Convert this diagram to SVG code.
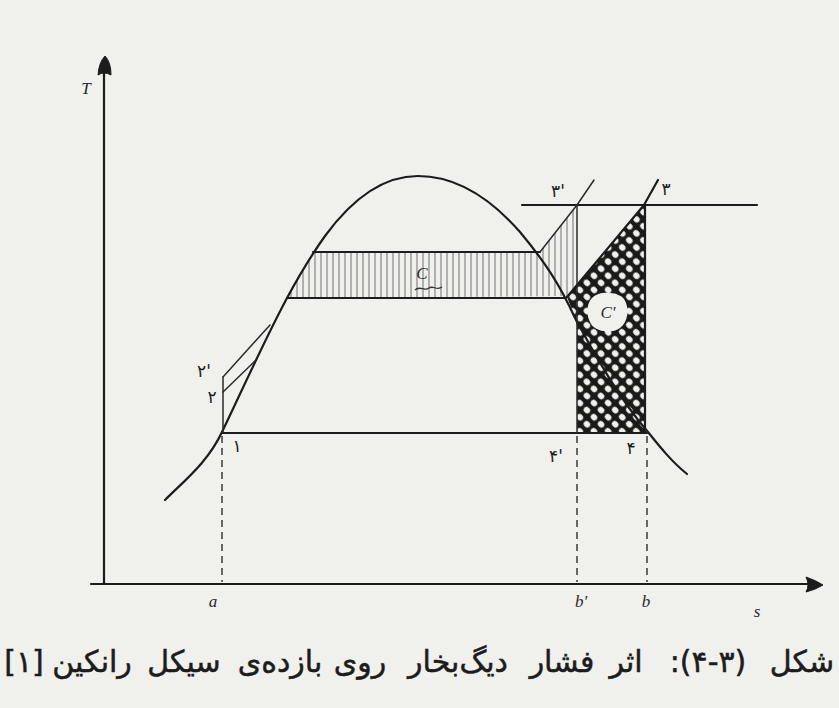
<svg xmlns="http://www.w3.org/2000/svg" width="839" height="708" viewBox="0 0 839 708">
<defs>
<style>
.ln{fill:none;stroke:#1c1c1c;stroke-width:2.2;stroke-linecap:round;stroke-linejoin:round}
.thin{fill:none;stroke:#2a2a2a;stroke-width:1.5;stroke-linecap:round}
.dash{fill:none;stroke:#3a3a3a;stroke-width:1.5;stroke-dasharray:7 5}
.lbl{font-family:"Liberation Serif",serif;font-style:italic;font-size:17px;fill:#2a2a2a;text-anchor:middle}
.fa{font-family:"DejaVu Sans",sans-serif;fill:#1c1c1c;text-anchor:middle}
.pt{font-size:17px}
.cap{font-size:30px;stroke:#1c1c1c;stroke-width:0.5}
.arrow{fill:#1c1c1c;stroke:#1c1c1c;stroke-width:1;stroke-linejoin:round}
</style>
<pattern id="vh" width="6" height="10" patternUnits="userSpaceOnUse">
<line x1="3" y1="0" x2="3" y2="10" stroke="#858585" stroke-width="1.2"/>
</pattern>
<pattern id="xh" width="10" height="10" patternUnits="userSpaceOnUse" patternTransform="rotate(45)">
<rect width="10" height="10" fill="#1a1a1a"/>
<ellipse cx="5" cy="5" rx="3.5" ry="3" fill="#f0f0ed"/>
</pattern>
</defs>
<rect width="839" height="708" fill="#f0f0ed"/>

<g id="hatch-C">
<path d="M313,252 L540,252 L577,205 L577,285 L568,296 L287,298 Z" fill="url(#vh)"/>
</g>
<g id="hatch-Cprime">
<path d="M567,297 L644,205 L645,205 L645,433 L577,433 L577,326 L573,312 Z" fill="url(#xh)"/>
<path d="M592,298 C600,290 618,292 624,299 C630,308 628,322 620,328 C612,334 596,332 591,324 C586,316 586,304 592,298 Z" fill="#f0f0ed"/>
</g>

<g id="axes">
<line class="ln" x1="104" y1="584" x2="104" y2="70"/>
<path class="arrow" d="M98,75 Q99,62 105,56 Q111,62 111,75 Q104,71 98,75 Z"/>
<line class="ln" x1="91" y1="584" x2="810" y2="584"/>
<path class="arrow" d="M806,577 Q815,580 823,585 Q815,590 806,592 Q810,585 806,577 Z"/>
<text class="lbl" x="86" y="94" font-size="15">T</text>
<text class="lbl" x="213" y="607">a</text>
<text class="lbl" x="581" y="607">b'</text>
<text class="lbl" x="646" y="607">b</text>
<text class="lbl" x="757" y="617">s</text>
</g>

<g id="dashes">
<line class="dash" x1="222" y1="436" x2="222" y2="582"/>
<line class="dash" x1="577" y1="436" x2="577" y2="582"/>
<line class="dash" x1="647" y1="436" x2="647" y2="582"/>
</g>

<g id="dome">
<path class="ln" d="M165,500 C185,480 208,462 222,432 C240,395 262,345 287,298 C300,274 310,257 325,236 C355,195 385,176 418,176 C458,176 492,200 520,232 C545,262 560,285 575,318 C595,355 620,400 648,432 C660,447 672,462 687,474"/>
</g>

<g id="cycles">
<line class="ln" x1="222" y1="433" x2="647" y2="433"/>
<line class="ln" x1="287" y1="298" x2="566" y2="298"/>
<line class="ln" x1="313" y1="252" x2="540" y2="252"/>
<line class="ln" x1="522" y1="205" x2="757" y2="205"/>
<line class="thin" x1="223" y1="433" x2="223" y2="377"/>
<line class="thin" x1="223" y1="392" x2="255" y2="361"/>
<line class="thin" x1="223" y1="377" x2="270" y2="325"/>
<polyline class="thin" points="540,252 577,205 594,180"/>
<polyline class="ln" points="567,297 644,205 658,180"/>
<line class="thin" x1="577" y1="205" x2="577" y2="433"/>
<line class="ln" x1="645" y1="205" x2="645" y2="433"/>
</g>

<g id="labels">
<text class="fa pt" x="204" y="377">۲'</text>
<text class="fa pt" x="212" y="403">۲</text>
<text class="fa pt" x="237" y="452">۱</text>
<text class="fa pt" x="556" y="462">۴'</text>
<text class="fa pt" x="631" y="454">۴</text>
<text class="fa pt" x="558" y="197">۳'</text>
<text class="fa pt" x="666" y="195">۳</text>
<text class="lbl" x="422" y="279" font-size="16">C</text>
<path d="M415,290 C420,285 424,292 429,288 C433,285 437,291 442,287" fill="none" stroke="#333" stroke-width="1.3"/>
<text class="lbl" x="608" y="318" font-size="17">C'</text>
</g>

<g id="caption" class="fa cap" direction="rtl">
<text x="802" y="672">شکل</text>
<text x="708" y="672">(۴-۳):</text>
<text x="626" y="672">اثر</text>
<text x="562" y="672">فشار</text>
<text x="458" y="672">دیگ‌بخار</text>
<text x="360" y="672">روی</text>
<text x="280" y="672">بازده‌ی</text>
<text x="184" y="672">سیکل</text>
<text x="92" y="672">رانکین</text>
<text x="24" y="672">[۱]</text>
</g>
</svg>
